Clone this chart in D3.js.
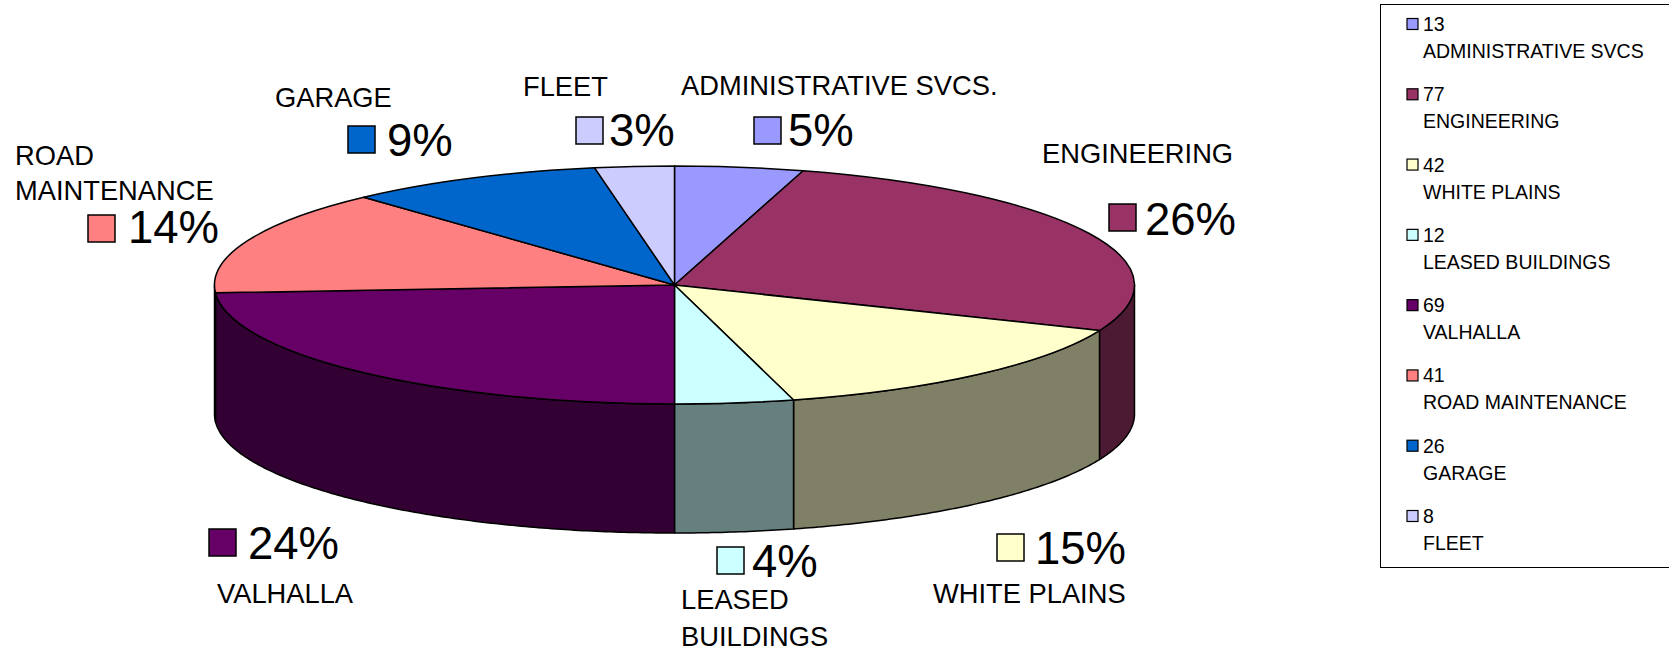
<!DOCTYPE html>
<html>
<head>
<meta charset="utf-8">
<script src="https://cdn.jsdelivr.net/npm/d3@7"></script>
<style>
  html, body { margin: 0; padding: 0; background: #fff; }
  svg { display: block; font-family: "Liberation Sans", Arial, sans-serif; }
</style>
</head>
<body>
<div id="chart"></div>
<script>
// data
const categories = ["ADMINISTRATIVE SVCS", "ENGINEERING", "WHITE PLAINS", "LEASED BUILDINGS",
                    "VALHALLA", "ROAD MAINTENANCE", "GARAGE", "FLEET"];
const values = [13, 77, 42, 12, 69, 41, 26, 8];
const pieNames = [["ADMINISTRATIVE SVCS."], ["ENGINEERING"], ["WHITE PLAINS"], ["LEASED", "BUILDINGS"],
                  ["VALHALLA"], ["ROAD", "MAINTENANCE"], ["GARAGE"], ["FLEET"]];
const percentLabels = ["5%", "26%", "15%", "4%", "24%", "14%", "9%", "3%"];
const colors = ["#9999ff", "#993366", "#ffffcc", "#ccffff", "#660066", "#ff8080", "#0066cc", "#ccccff"];

// label placement (key box, percent text, name lines)
const labelLayout = [
    { kx: 754,  ky: 117, px: 788,  py: 146, nx: 681, ny: [95] },
    { kx: 1109, ky: 204, px: 1145, py: 235, nx: 1042, ny: [163] },
    { kx: 997,  ky: 534, px: 1035, py: 564, nx: 933, ny: [603] },
    { kx: 717,  ky: 547, px: 752,  py: 577, nx: 681, ny: [609, 646] },
    { kx: 209,  ky: 529, px: 248,  py: 559, nx: 217, ny: [603] },
    { kx: 88,   ky: 215, px: 128,  py: 243, nx: 15,  ny: [165, 200] },
    { kx: 348,  ky: 126, px: 387,  py: 156, nx: 275, ny: [107] },
    { kx: 576,  ky: 117, px: 609,  py: 146, nx: 523, ny: [96] }
];

const width = 1669, height = 654;
const cx = 674.5, cy = 285, rx = 460, ry = 119, depth = 129;

const svg = d3.select("#chart").append("svg")
    .attr("width", width)
    .attr("height", height);

// angles: 0 at 12 o'clock, clockwise
const pie = d3.pie().sort(null).value(d => d);
const arcs = pie(values);

const ex = a => cx + rx * Math.sin(a);
const ey = a => cy - ry * Math.cos(a);

const sideColor = c => {
    const r = d3.rgb(c);
    return d3.rgb(r.r * 0.5, r.g * 0.5, r.b * 0.5).formatHex();
};

// outer walls (front half only)
const side = d3.area()
    .x(a => ex(a))
    .y0(a => ey(a) + depth)
    .y1(a => ey(a));

const gSide = svg.append("g");
arcs.forEach((d, i) => {
    const a0 = Math.max(d.startAngle, Math.PI / 2);
    const a1 = Math.min(d.endAngle, Math.PI * 3 / 2);
    if (a1 <= a0) return;
    const steps = d3.range(a0, a1, 0.01).concat([a1]);
    gSide.append("path")
        .attr("d", side(steps))
        .attr("fill", sideColor(colors[i]))
        .attr("stroke", "#000")
        .attr("stroke-width", 1.5)
        .attr("stroke-linejoin", "round");
});

// top faces: circular arcs squashed into the ellipse
const arc = d3.arc().innerRadius(0).outerRadius(rx);
svg.append("g")
    .attr("transform", `translate(${cx},${cy}) scale(1,${ry / rx})`)
    .selectAll("path")
    .data(arcs)
    .join("path")
    .attr("d", arc)
    .attr("fill", (d, i) => colors[i])
    .attr("stroke", "#000")
    .attr("stroke-width", 1.5)
    .attr("vector-effect", "non-scaling-stroke")
    .attr("stroke-linejoin", "round");

// data labels
const gLab = svg.append("g");
labelLayout.forEach((l, i) => {
    gLab.append("rect")
        .attr("x", l.kx).attr("y", l.ky)
        .attr("width", 27).attr("height", 27)
        .attr("fill", colors[i])
        .attr("stroke", "#000")
        .attr("stroke-width", 1.5);
    gLab.append("text")
        .attr("x", l.px).attr("y", l.py)
        .attr("font-size", 45.5)
        .attr("fill", "#000")
        .text(percentLabels[i]);
    pieNames[i].forEach((line, j) => {
        gLab.append("text")
            .attr("x", l.nx).attr("y", l.ny[j])
            .attr("font-size", 27.3)
            .attr("fill", "#000")
            .text(line);
    });
});

// legend
const legend = svg.append("g");
legend.append("rect")
    .attr("x", 1380.5).attr("y", 4.5)
    .attr("width", 320).attr("height", 563)
    .attr("fill", "#fff")
    .attr("stroke", "#000")
    .attr("stroke-width", 1);

const legendY = d3.scalePoint()
    .domain(d3.range(categories.length))
    .range([24, 516]);

categories.forEach((c, i) => {
    const y = legendY(i);
    const item = legend.append("g").attr("transform", `translate(1407,${y})`);
    item.append("rect")
        .attr("x", 0).attr("y", -5.5)
        .attr("width", 11).attr("height", 11)
        .attr("fill", colors[i])
        .attr("stroke", "#000")
        .attr("stroke-width", 1.2);
    item.append("text")
        .attr("x", 16).attr("y", 7)
        .attr("font-size", 19.5)
        .text(values[i]);
    item.append("text")
        .attr("x", 16).attr("y", 34)
        .attr("font-size", 19.5)
        .text(c);
});
</script>
</body>
</html>
